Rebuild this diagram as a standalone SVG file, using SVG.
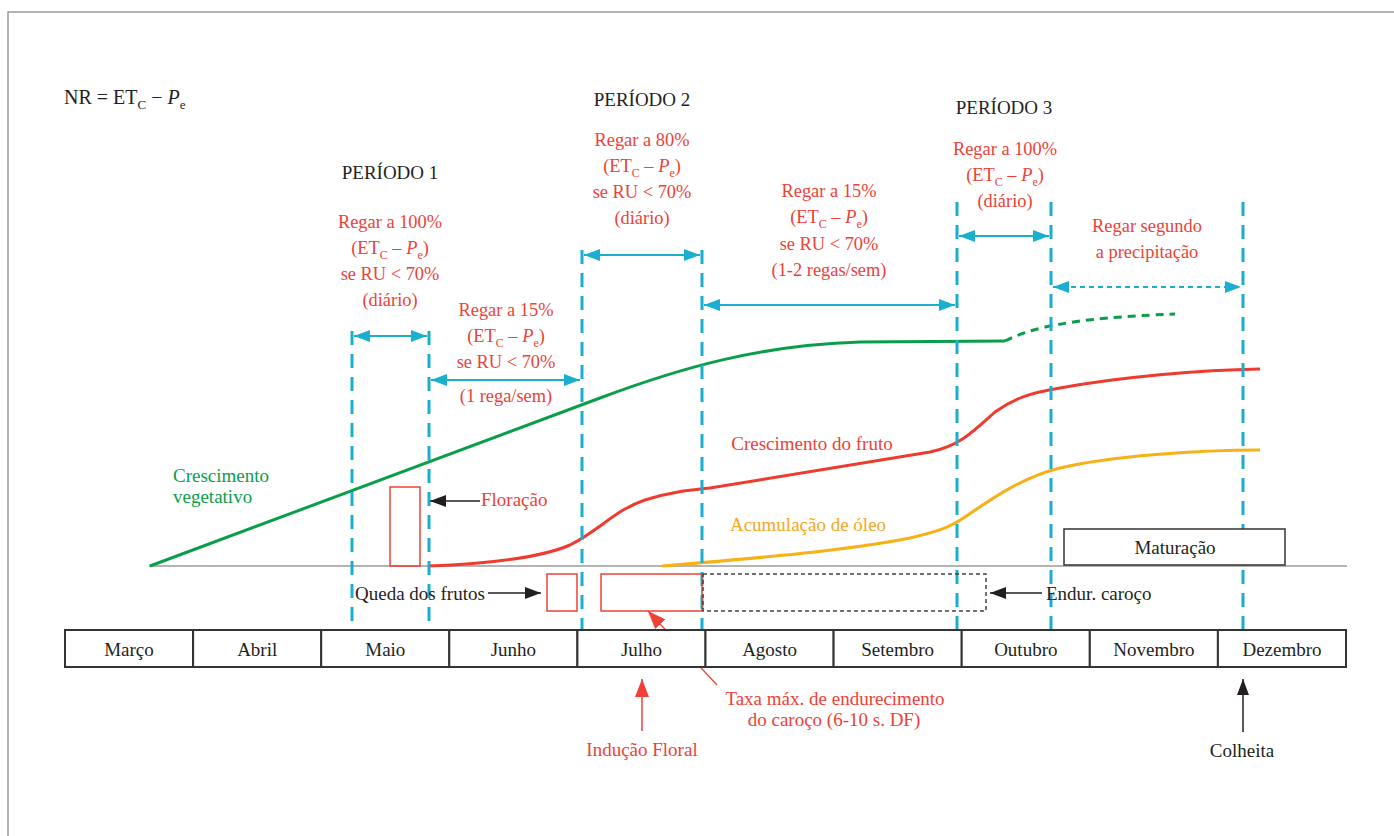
<svg xmlns="http://www.w3.org/2000/svg" width="1394" height="836" viewBox="0 0 1394 836">
<defs>
<style>
text{font-family:"Liberation Serif","Times New Roman",serif;font-size:19px;}
.k{fill:#231f20;}
.r{fill:#ef4136;}
.g{fill:#0a9e4a;}
.o{fill:#f5a81c;}
.m{text-anchor:middle;}
.b{font-size:18.4px;}
.sub{font-size:12px;}
.vd{stroke:#1aaed0;stroke-width:3;stroke-dasharray:14 9;fill:none;}
.ha{stroke:#1aaed0;stroke-width:2;fill:none;marker-start:url(#ca);marker-end:url(#ca);}
.mb{fill:#fff;stroke:#333;stroke-width:2;}
</style>
<marker id="ca" markerUnits="userSpaceOnUse" markerWidth="16" markerHeight="12" refX="16" refY="6" orient="auto-start-reverse"><path d="M0,0 L16,6 L0,12 z" fill="#1aaed0"/></marker>
<marker id="ka" markerUnits="userSpaceOnUse" markerWidth="16" markerHeight="12" refX="16" refY="6" orient="auto"><path d="M0,0 L16,6 L0,12 z" fill="#231f20"/></marker>
<marker id="ra" markerUnits="userSpaceOnUse" markerWidth="18" markerHeight="14" refX="18" refY="7" orient="auto"><path d="M0,0 L18,7 L0,14 z" fill="#ef4136"/></marker>
</defs>
<rect width="1394" height="836" fill="#fff"/>
<path d="M8,836 L8,12 L1394,12" fill="none" stroke="#9a9a9a" stroke-width="1.5"/>

<g id="formula"><text class="k" x="64" y="104" style="font-size:20px">NR = ET<tspan dy="5" style="font-size:13px">C</tspan><tspan dy="-5"> − </tspan><tspan font-style="italic">P</tspan><tspan dy="5" style="font-size:13px">e</tspan></text></g>

<g id="periods">
<text class="k m" x="390" y="179">PERÍODO 1</text>
<text class="k m" x="642" y="106">PERÍODO 2</text>
<text class="k m" x="1004" y="114">PERÍODO 3</text>
</g>

<g id="baseline"><line x1="149" y1="566" x2="1347" y2="566" stroke="#9a9a9a" stroke-width="1.5"/></g>

<g id="curves" fill="none">
<path d="M150,566 L600,398 C680,368 760,345 860,342 L1005,341" stroke="#0a9e4a" stroke-width="3"/>
<path d="M1005,341 C1030,328 1070,318 1175,314" stroke="#0a9e4a" stroke-width="3" stroke-dasharray="8 6"/>
<path d="M429,566 C480,564 540,558 570,545 C600,530 615,510 645,500 C670,492 690,490 710,488 L930,452 C960,446 975,430 995,412 C1015,398 1030,393 1060,388 C1120,377 1200,370 1260,369" stroke="#ee3b2e" stroke-width="3"/>
<path d="M662,566 C760,558 850,550 910,538 C940,531 950,527 965,517 C990,500 1020,478 1060,468 C1110,456 1200,450 1260,450" stroke="#f7b015" stroke-width="3"/>
</g>

<g id="connectors">
<line class="vd" x1="352" y1="331" x2="352" y2="630"/>
<line class="vd" x1="429" y1="331" x2="429" y2="630"/>
<line class="vd" x1="582" y1="250" x2="582" y2="630"/>
<line class="vd" x1="702" y1="250" x2="702" y2="630"/>
<line class="vd" x1="957" y1="202" x2="957" y2="630"/>
<line class="vd" x1="1051" y1="202" x2="1051" y2="630"/>
<line class="vd" x1="1243" y1="202" x2="1243" y2="630"/>
<line class="ha" x1="354" y1="336" x2="427" y2="336"/>
<line class="ha" x1="431" y1="380" x2="580" y2="380"/>
<line class="ha" x1="584" y1="255" x2="700" y2="255"/>
<line class="ha" x1="704" y1="305" x2="955" y2="305"/>
<line class="ha" x1="959" y1="236" x2="1049" y2="236"/>
<line class="ha" x1="1053" y1="287" x2="1241" y2="287" stroke-width="1.5" stroke-dasharray="5 4"/>
<line x1="480" y1="501" x2="430" y2="501" stroke="#231f20" stroke-width="1.5" marker-end="url(#ka)"/>
<line x1="488" y1="593" x2="541" y2="593" stroke="#231f20" stroke-width="1.5" marker-end="url(#ka)"/>
<line x1="1042" y1="593" x2="990" y2="593" stroke="#231f20" stroke-width="1.5" marker-end="url(#ka)"/>
<line x1="1243" y1="732" x2="1243" y2="679" stroke="#231f20" stroke-width="1.5" marker-end="url(#ka)"/>
<line x1="642" y1="731" x2="642" y2="679" stroke="#ef4136" stroke-width="1.5" marker-end="url(#ra)"/>
<line x1="717" y1="685" x2="648" y2="611" stroke="#ef4136" stroke-width="1.2" marker-end="url(#ra)"/>
</g>

<g id="p1a">
<text class="r m b" x="390" y="228">Regar a 100%</text>
<text class="r m b" x="390" y="254">(ET<tspan class="sub" dy="5">C</tspan><tspan dy="-5"> – </tspan><tspan font-style="italic">P</tspan><tspan class="sub" dy="5">e</tspan><tspan dy="-5">)</tspan></text>
<text class="r m b" x="390" y="280">se RU &lt; 70%</text>
<text class="r m b" x="390" y="306">(diário)</text>
</g>
<g id="p1b">
<text class="r m b" x="506" y="316">Regar a 15%</text>
<text class="r m b" x="506" y="342">(ET<tspan class="sub" dy="5">C</tspan><tspan dy="-5"> – </tspan><tspan font-style="italic">P</tspan><tspan class="sub" dy="5">e</tspan><tspan dy="-5">)</tspan></text>
<text class="r m b" x="506" y="368">se RU &lt; 70%</text>
<text class="r m b" x="506" y="402">(1 rega/sem)</text>
</g>
<g id="p2a">
<text class="r m b" x="642" y="146">Regar a 80%</text>
<text class="r m b" x="642" y="172">(ET<tspan class="sub" dy="5">C</tspan><tspan dy="-5"> – </tspan><tspan font-style="italic">P</tspan><tspan class="sub" dy="5">e</tspan><tspan dy="-5">)</tspan></text>
<text class="r m b" x="642" y="198">se RU &lt; 70%</text>
<text class="r m b" x="642" y="224">(diário)</text>
</g>
<g id="p2b">
<text class="r m b" x="829" y="197">Regar a 15%</text>
<text class="r m b" x="829" y="223">(ET<tspan class="sub" dy="5">C</tspan><tspan dy="-5"> – </tspan><tspan font-style="italic">P</tspan><tspan class="sub" dy="5">e</tspan><tspan dy="-5">)</tspan></text>
<text class="r m b" x="829" y="250">se RU &lt; 70%</text>
<text class="r m b" x="829" y="276">(1-2 regas/sem)</text>
</g>
<g id="p3a">
<text class="r m b" x="1005" y="155">Regar a 100%</text>
<text class="r m b" x="1005" y="181">(ET<tspan class="sub" dy="5">C</tspan><tspan dy="-5"> – </tspan><tspan font-style="italic">P</tspan><tspan class="sub" dy="5">e</tspan><tspan dy="-5">)</tspan></text>
<text class="r m b" x="1005" y="207">(diário)</text>
</g>
<g id="p3b">
<text class="r m b" x="1147" y="232">Regar segundo</text>
<text class="r m b" x="1147" y="258">a precipitação</text>
</g>

<g id="veg"><text class="g" x="173" y="482">Crescimento</text><text class="g" x="173" y="503">vegetativo</text></g>
<g id="fruto"><text class="r m" x="812" y="450">Crescimento do fruto</text></g>
<g id="oleo"><text class="o m" x="808" y="531">Acumulação de óleo</text></g>

<g id="floracao"><rect x="390" y="487" width="30" height="79" fill="none" stroke="#ef4136" stroke-width="1.5"/><text class="r" x="481" y="506">Floração</text></g>
<g id="queda"><text class="k" x="355" y="600">Queda dos frutos</text><rect x="547" y="574" width="30" height="37" fill="none" stroke="#ef4136" stroke-width="1.5"/></g>
<g id="taxa"><rect x="601" y="574" width="101" height="37" fill="none" stroke="#ef4136" stroke-width="1.5"/>
<text class="r m" x="835" y="705">Taxa máx. de endurecimento</text><text class="r m" x="834" y="726">do caroço (6-10 s. DF)</text></g>
<g id="endur"><rect x="703" y="574" width="283" height="37" fill="none" stroke="#444" stroke-width="1.5" stroke-dasharray="4 3"/><text class="k" x="1046" y="600">Endur. caroço</text></g>
<g id="maturacao"><rect x="1064" y="529" width="221" height="36" fill="#fff" stroke="#333" stroke-width="1.5"/><text class="k m" x="1175" y="554">Maturação</text></g>
<g id="inducao"><text class="r m" x="642" y="756">Indução Floral</text></g>
<g id="colheita"><text class="k m" x="1242" y="757">Colheita</text></g>

<g id="months">
<rect class="mb" x="65" y="630" width="128.1" height="37"/><text class="k m" x="129" y="656">Março</text>
<rect class="mb" x="193.1" y="630" width="128.1" height="37"/><text class="k m" x="257.2" y="656">Abril</text>
<rect class="mb" x="321.2" y="630" width="128.1" height="37"/><text class="k m" x="385.3" y="656">Maio</text>
<rect class="mb" x="449.3" y="630" width="128.1" height="37"/><text class="k m" x="513.4" y="656">Junho</text>
<rect class="mb" x="577.4" y="630" width="128.1" height="37"/><text class="k m" x="641.5" y="656">Julho</text>
<rect class="mb" x="705.5" y="630" width="128.1" height="37"/><text class="k m" x="769.6" y="656">Agosto</text>
<rect class="mb" x="833.6" y="630" width="128.1" height="37"/><text class="k m" x="897.7" y="656">Setembro</text>
<rect class="mb" x="961.7" y="630" width="128.1" height="37"/><text class="k m" x="1025.8" y="656">Outubro</text>
<rect class="mb" x="1089.8" y="630" width="128.1" height="37"/><text class="k m" x="1153.9" y="656">Novembro</text>
<rect class="mb" x="1217.9" y="630" width="128.1" height="37"/><text class="k m" x="1282" y="656">Dezembro</text>
</g>
</svg>
